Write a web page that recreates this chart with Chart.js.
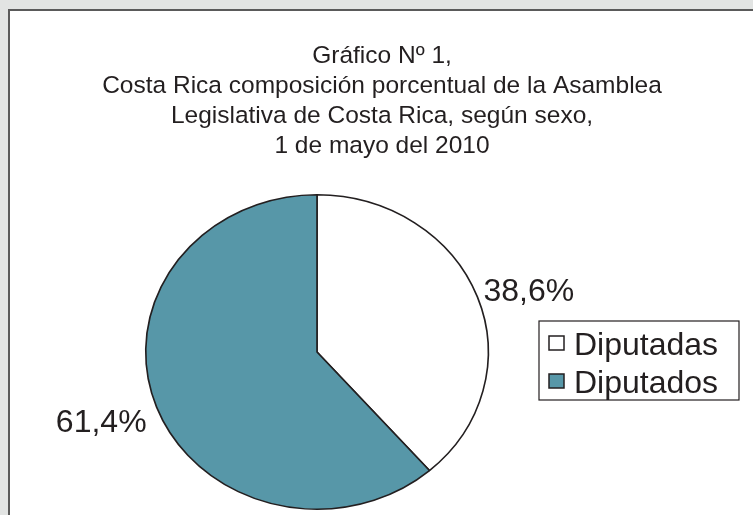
<!DOCTYPE html>
<html lang="es">
<head>
<meta charset="utf-8">
<title>Gráfico Nº 1</title>
<script src="https://cdn.jsdelivr.net/npm/chart.js@4.4.1/dist/chart.umd.min.js"></script>
<style>
  html, body { margin: 0; padding: 0; background: #e2e4e3; }
  #wrap { position: relative; width: 753px; height: 515px; }
</style>
</head>
<body>
<div id="wrap"><canvas id="chart" width="753" height="515"></canvas></div>
<script>
  // ── DATI ──────────────────────────────────────────────────
  const TITLE_LINES = [
    'Gráfico Nº 1,',
    'Costa Rica composición porcentual de la Asamblea',
    'Legislativa de Costa Rica, según sexo,',
    '1 de mayo del 2010'
  ];
  const CATEGORIES = ['Diputadas', 'Diputados'];
  const PERCENTS   = [38.6, 61.4];
  const COLORS     = ['#ffffff', '#5797a8'];

  const INK    = '#231f20';
  const FONT   = '"Liberation Sans", Arial, sans-serif';
  const STRETCH_X = 171 / 157;   // la torta del originale è un'ellisse

  const fmtPct = v => v.toFixed(1).replace('.', ',') + '%';

  // ── SFONDO + CORNICE ─────────────────────────────────────
  const framePlugin = {
    id: 'frame',
    beforeDraw(chart) {
      const { ctx, width, height } = chart;
      ctx.save();
      ctx.fillStyle = '#e2e4e3';
      ctx.fillRect(0, 0, width, height);
      ctx.fillStyle = '#ffffff';
      ctx.fillRect(9, 10, width, height);
      ctx.strokeStyle = '#5a5a5a';
      ctx.lineWidth = 2;
      ctx.beginPath();
      ctx.moveTo(9, height + 5);
      ctx.lineTo(9, 10);
      ctx.lineTo(width + 5, 10);
      ctx.stroke();

      // titolo
      ctx.fillStyle = INK;
      ctx.font = '24.5px ' + FONT;
      ctx.textAlign = 'center';
      ctx.textBaseline = 'alphabetic';
      TITLE_LINES.forEach((t, i) => ctx.fillText(t, 382, 63 + i * 30));
      ctx.restore();
    }
  };

  // ── ELLISSE: stiro orizzontale attorno al centro ─────────
  const stretchPlugin = {
    id: 'stretch',
    beforeDatasetsDraw(chart) {
      const arc = chart.getDatasetMeta(0).data[0];
      const ctx = chart.ctx;
      ctx.save();
      ctx.translate(arc.x, 0);
      ctx.scale(STRETCH_X, 1);
      ctx.translate(-arc.x, 0);
    },
    afterDatasetsDraw(chart) {
      chart.ctx.restore();
    }
  };

  // ── ETICHETTE % + LEGENDA ────────────────────────────────
  const labelsPlugin = {
    id: 'pctLabels',
    afterDraw(chart) {
      const ctx  = chart.ctx;
      const meta = chart.getDatasetMeta(0);
      ctx.save();
      ctx.fillStyle = INK;
      ctx.font = '32px ' + FONT;
      ctx.textBaseline = 'middle';
      meta.data.forEach((arc, i) => {
        const mid = (arc.startAngle + arc.endAngle) / 2;
        const ex = arc.x + Math.cos(mid) * arc.outerRadius * STRETCH_X;
        const ey = arc.y + Math.sin(mid) * arc.outerRadius;
        const right = Math.cos(mid) >= 0;
        ctx.textAlign = right ? 'left' : 'right';
        ctx.fillText(fmtPct(PERCENTS[i]), ex + (right ? 6 : -10), ey + Math.sin(mid) * 30 + 6);
      });

      // legenda
      const lx = 539, ly = 321, lw = 200, lh = 79, row = 38;
      ctx.strokeStyle = INK;
      ctx.lineWidth = 1.2;
      ctx.strokeRect(lx, ly, lw, lh);
      ctx.textAlign = 'left';
      ctx.textBaseline = 'alphabetic';
      CATEGORIES.forEach((c, i) => {
        const y = ly + i * row;
        ctx.fillStyle = COLORS[i];
        ctx.fillRect(lx + 10, y + 15, 15, 14);
        ctx.lineWidth = 1.5;
        ctx.strokeRect(lx + 10, y + 15, 15, 14);
        ctx.fillStyle = INK;
        ctx.fillText(c, lx + 35, y + 34);
      });
      ctx.restore();
    }
  };

  // ── GRAFICO ──────────────────────────────────────────────
  new Chart(document.getElementById('chart').getContext('2d'), {
    type: 'pie',
    data: {
      labels: CATEGORIES,
      datasets: [{
        data: PERCENTS,
        backgroundColor: COLORS,
        borderColor: INK,
        borderWidth: 1.5,
      }]
    },
    options: {
      responsive: false,
      animation: false,
      layout: { padding: { top: 194, bottom: 5, left: 117, right: 236 } },
      plugins: {
        legend:  { display: false },
        title:   { display: false },
        tooltip: { enabled: false }
      }
    },
    plugins: [framePlugin, stretchPlugin, labelsPlugin]
  });
</script>
</body>
</html>
